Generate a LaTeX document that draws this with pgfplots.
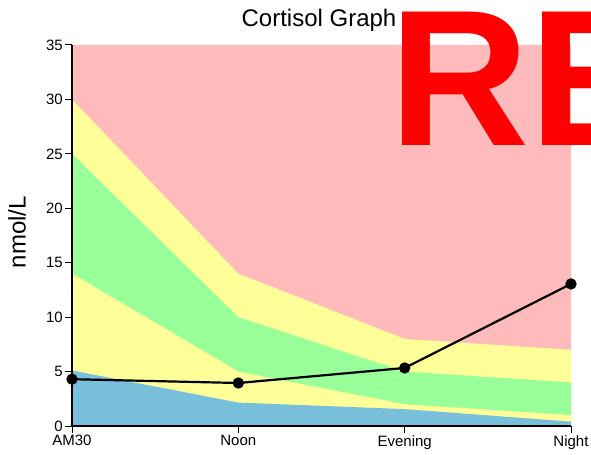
\documentclass[border=0pt]{standalone}
\usepackage{pgfplots}
\pgfplotsset{compat=1.18}
\usepackage{fontspec}
\setmainfont{Liberation Sans}
\definecolor{cpink}{RGB}{255,187,187}
\definecolor{cyellow}{RGB}{255,255,153}
\definecolor{cgreen}{RGB}{153,255,153}
\definecolor{cblue}{RGB}{119,191,219}
\begin{document}
\begin{tikzpicture}
\begin{axis}[
  scale only axis,
  width=499bp, height=381bp,
  xmin=0, xmax=3, ymin=0, ymax=35,
  axis x line*=bottom, axis y line*=left,
  axis line style={line width=1.5bp},
  xtick={0,1,2,3},
  xticklabels={AM30,Noon,Evening,Night},
  ytick={0,5,10,15,20,25,30,35},
  tick align=outside,
  major tick length=7bp,
  tick style={black, line width=1bp},
  ticklabel style={font=\fontsize{15bp}{18bp}\selectfont, inner sep=2bp},
  /pgf/number format/assume math mode=true,
  clip=false,
  axis on top,
]
\coordinate (O) at (rel axis cs:0,0);
\addplot[fill=cpink, draw=none] coordinates {(0,35) (1,35) (2,35) (3,35)} \closedcycle;
\addplot[fill=cyellow, draw=none] coordinates {(0,30) (1,14) (2,8) (3,7)} \closedcycle;
\addplot[fill=cgreen, draw=none] coordinates {(0,25) (1,10) (2,5) (3,4)} \closedcycle;
\addplot[fill=cyellow, draw=none] coordinates {(0,14) (1,5) (2,2) (3,1)} \closedcycle;
\addplot[fill=cblue, draw=none] coordinates {(0,5.1) (1,2.15) (2,1.55) (3,0.4)} \closedcycle;
\addplot[black, line width=2.2bp, mark=*, mark size=4.5bp, mark options={fill=black}]
  coordinates {(0,4.3) (1,3.95) (2,5.33) (3,13.05)};
\end{axis}
\node[anchor=base, inner sep=0] at ([xshift=247bp,yshift=399bp]O) {\fontsize{24bp}{28bp}\selectfont Cortisol Graph};
\node[rotate=90, anchor=center, inner sep=0] at ([xshift=-55bp,yshift=194bp]O) {\fontsize{24bp}{28bp}\selectfont nmol/L};
\pgfresetboundingbox
\useasboundingbox ([xshift=-72bp,yshift=-29bp]O) rectangle ([xshift=519bp,yshift=426bp]O);
\begin{scope}
\clip ([xshift=-72bp,yshift=-29bp]O) rectangle ([xshift=519bp,yshift=426bp]O);
\node[anchor=base west, inner sep=0, text=red] at ([xshift=317bp,yshift=280bp]O) {\fontsize{194bp}{200bp}\selectfont\bfseries RE};
\end{scope}
\end{tikzpicture}
\end{document}
